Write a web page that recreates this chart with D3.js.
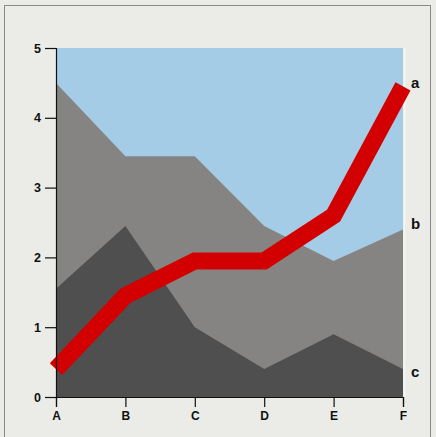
<!DOCTYPE html>
<html><head><meta charset="utf-8">
<script src="https://cdn.jsdelivr.net/npm/d3@7"></script>
<style>
html,body{margin:0;padding:0;background:#ebebe7;}
svg{display:block;}
text{font-family:"Liberation Sans",Arial,sans-serif;font-weight:bold;fill:#111;}
</style></head>
<body>
<svg id="chart" width="436" height="437"></svg>
<script>
const categories = ["A","B","C","D","E","F"];
const seriesA = [0.4, 1.45, 1.95, 1.95, 2.6, 4.45];
const seriesB = [4.5, 3.45, 3.45, 2.45, 1.95, 2.4];
const seriesC = [1.55, 2.45, 1.0, 0.4, 0.9, 0.4];
const yTicks = [0, 1, 2, 3, 4, 5];
const seriesNames = ["a", "b", "c"];

const svg = d3.select("#chart");
const margin = {left: 56, right: 33, top: 48, bottom: 40};
const W = 436, H = 437;

// outer frame
svg.append("rect").attr("x",4.5).attr("y",5.5).attr("width",426).attr("height",450)
  .attr("fill","none").attr("stroke","#8a8a88").attr("stroke-width",1);

const x = d3.scalePoint().domain(categories).range([margin.left, W - margin.right]);
const y = d3.scaleLinear().domain([0,5]).range([H - margin.bottom, margin.top]);

// plot background
svg.append("rect").attr("x", x("A")).attr("y", y(5))
  .attr("width", x("F") - x("A")).attr("height", y(0) - y(5))
  .attr("fill", "#a5cce6");

const area = d3.area().x((d,i)=>x(categories[i])).y0(y(0)).y1(d=>y(d));
svg.append("path").datum(seriesB).attr("d", area).attr("fill","#868482");
svg.append("path").datum(seriesC).attr("d", area).attr("fill","#4f4f4f");

// light right edge
svg.append("line").attr("x1", x("F")+1.5).attr("x2", x("F")+1.5).attr("y1", y(5)).attr("y2", y(0))
  .attr("stroke","#f4f4f2").attr("stroke-width",2);

const line = d3.line().x((d,i)=>x(categories[i])).y(d=>y(d));
svg.append("path").datum(seriesA).attr("d", line).attr("fill","none")
  .attr("stroke","#d20000").attr("stroke-width",17)
  .attr("stroke-linejoin","miter").attr("stroke-linecap","butt");

// axes
const yAxis = d3.axisLeft(y).tickValues(yTicks).tickFormat(d3.format("d")).tickSize(11).tickPadding(4);
const gy = svg.append("g").attr("transform",`translate(${x("A")},0)`).call(yAxis);
gy.select(".domain").attr("stroke","#111").attr("stroke-width",1.2);
gy.selectAll(".tick line").attr("stroke","#111").attr("stroke-width",1.2);
gy.selectAll("text").style("font-size","12.5px").style("font-weight","bold").attr("fill","#111");

const xAxis = d3.axisBottom(x).tickSize(10).tickPadding(4);
const gx = svg.append("g").attr("transform",`translate(0,${y(0)})`).call(xAxis);
gx.select(".domain").attr("stroke","#111").attr("stroke-width",1.2);
gx.selectAll(".tick line").attr("stroke","#111").attr("stroke-width",1.2);
gx.selectAll("text").style("font-size","12px").style("font-weight","bold").attr("fill","#111");

// series labels
const lastVals = [seriesA[5], seriesB[5], seriesC[5]];
const offs = [-4, -6, 2];
svg.selectAll("text.lbl").data(seriesNames).enter().append("text")
  .attr("class","lbl")
  .attr("x", x("F") + 8)
  .attr("y", (d,i)=>y(lastVals[i]) + offs[i])
  .attr("dominant-baseline","central")
  .style("font-size","15px")
  .text(d=>d);
</script>
</body></html>
